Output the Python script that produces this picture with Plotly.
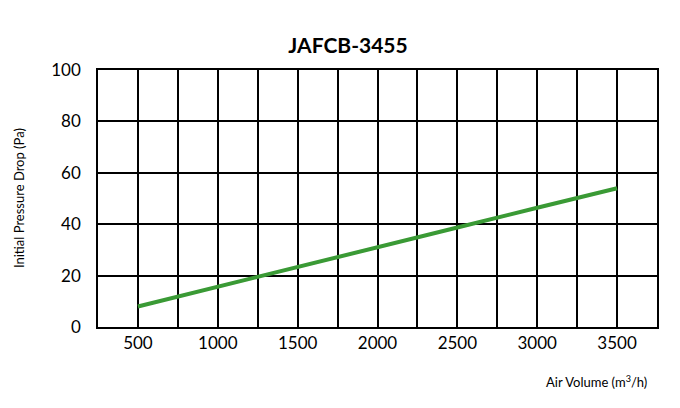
import plotly.graph_objects as go

air_volume = [500, 1000, 1500, 2000, 2500, 3000, 3500]
pressure_drop = [8, 15.6, 23.3, 31, 38.7, 46.4, 54]

grid_x = list(range(250, 3751, 250))
grid_labels = [str(v) if v % 500 == 0 and 500 <= v <= 3500 else "" for v in grid_x]
y_ticks = [0, 20, 40, 60, 80, 100]

fig = go.Figure()
fig.add_trace(go.Scatter(x=air_volume, y=pressure_drop, mode="lines",
                         line=dict(color="#3a9a35", width=4)))

fig.update_layout(
    width=680, height=408,
    margin=dict(l=90, r=31, t=62, b=89),
    paper_bgcolor="white", plot_bgcolor="white",
    font=dict(family="Lato", color="black"),
    showlegend=False,
    title=dict(text="<b>JAFCB-3455</b>", x=0.5, xanchor="center", y=0.925,
               font=dict(size=21)),
)
fig.update_xaxes(range=[250, 3750], tickvals=grid_x, ticktext=grid_labels,
                 showgrid=True, gridcolor="black", gridwidth=1.5,
                 showline=True, linecolor="black", linewidth=1.5, mirror=True,
                 ticks="", tickfont=dict(size=17), zeroline=False)
fig.update_yaxes(range=[0, 100], tickvals=y_ticks,
                 showgrid=True, gridcolor="black", gridwidth=1.5,
                 showline=True, linecolor="black", linewidth=1.5, mirror=True,
                 ticks="", tickfont=dict(size=17), ticklabelstandoff=12, zeroline=False)
fig.add_annotation(text="Air Volume (m<sup>3</sup>/h)", xref="paper", yref="paper",
                   x=0.985, y=-0.17, xanchor="right", yanchor="top",
                   showarrow=False, font=dict(size=13))
fig.add_annotation(text="Initial Pressure Drop (Pa)", xref="paper", yref="paper",
                   x=-0.16, y=0.5, textangle=-90, showarrow=False,
                   font=dict(size=13))

fig.write_html("out.html")
